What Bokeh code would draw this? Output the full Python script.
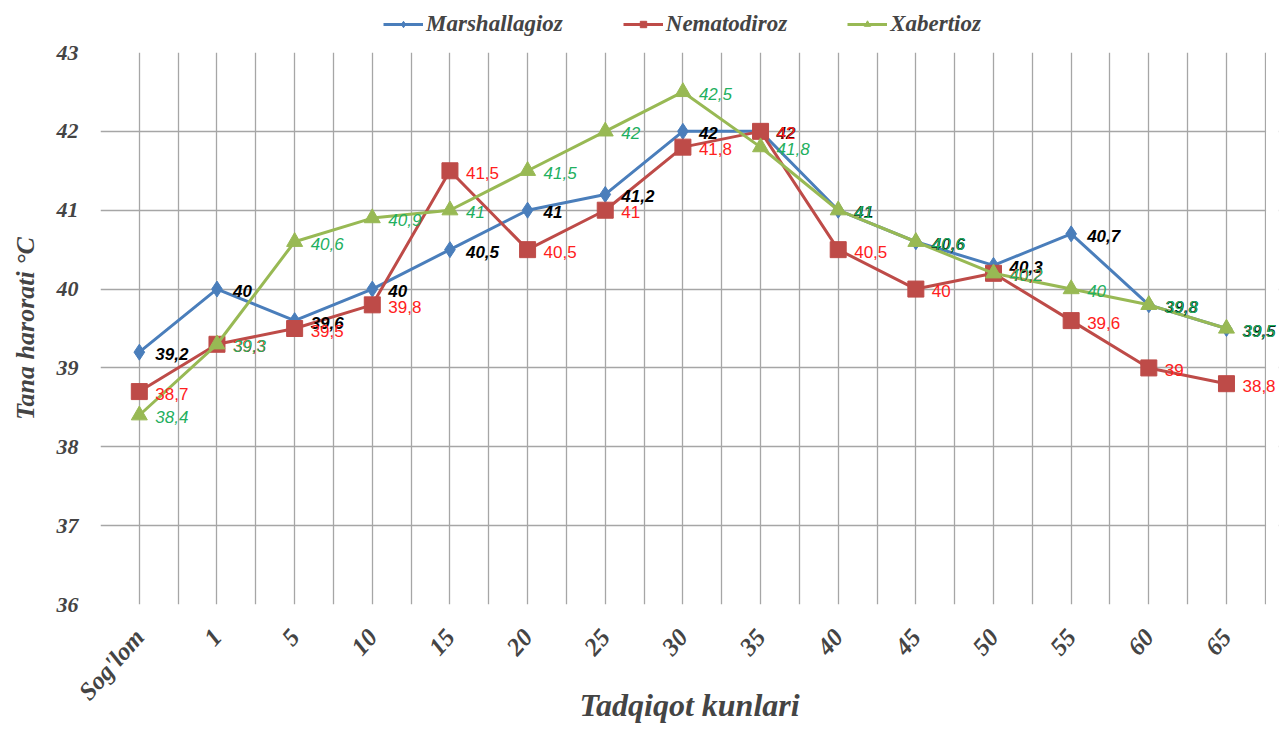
import math
from bokeh.plotting import figure
from bokeh.layouts import column
from bokeh.models import FixedTicker, ColumnDataSource, Legend, LegendItem, Range1d, BoxAnnotation
from bokeh.core.properties import value
from bokeh.embed import file_html
from bokeh.resources import INLINE

categories = ["Sog'lom", "1", "5", "10", "15", "20", "25", "30", "35", "40", "45", "50", "55", "60", "65"]
marshallagioz = [39.2, 40, 39.6, 40, 40.5, 41, 41.2, 42, 42, 41, 40.6, 40.3, 40.7, 39.8, 39.5]
nematodiroz = [38.7, 39.3, 39.5, 39.8, 41.5, 40.5, 41, 41.8, 42, 40.5, 40, 40.2, 39.6, 39, 38.8]
xabertioz = [38.4, 39.3, 40.6, 40.9, 41, 41.5, 42, 42.5, 41.8, 41, 40.6, 40.2, 40, 39.8, 39.5]
y_ticks = [36, 37, 38, 39, 40, 41, 42, 43]

def fmt(v):
    s = ("%g" % v)
    return s.replace(".", ",")

xs = list(range(len(categories)))
serif = "Liberation Serif"
n = len(categories)
x_end = n - 0.5  # last category boundary

p = figure(width=1280, height=690, output_backend="svg", toolbar_location=None,
           x_range=Range1d(-0.5, x_end + 0.17), y_range=Range1d(36, 43),
           min_border_left=100, min_border_right=2, min_border_top=14, min_border_bottom=124)

p.background_fill_color = "white"
p.border_fill_color = "white"
p.outline_line_color = None

# grids
half = [i * 0.5 - 0.5 for i in range(2 * n + 1)]
p.xgrid.ticker = FixedTicker(ticks=half)
p.xgrid.grid_line_color = "#a6a6a6"
p.xgrid.grid_line_width = 1.3
p.ygrid.ticker = FixedTicker(ticks=y_ticks)
p.ygrid.grid_line_color = "#a6a6a6"
p.ygrid.grid_line_width = 1.3

# white strip right of the last category so labels may overflow the plot area
p.add_layout(BoxAnnotation(left=x_end + 0.01, fill_color="white", fill_alpha=1,
                           line_color=None, level="underlay"))

# axes
p.xaxis.ticker = FixedTicker(ticks=xs)
p.xaxis.major_label_overrides = {i: c for i, c in enumerate(categories)}
p.xaxis.major_label_orientation = 0.85
p.xaxis.major_label_text_font = serif
p.xaxis.major_label_text_font_style = "bold italic"
p.xaxis.major_label_text_font_size = "25px"
p.xaxis.major_label_standoff = 28
p.xaxis.major_tick_in = 0
p.xaxis.major_tick_out = 0
p.xaxis.axis_line_color = None
p.xaxis.major_tick_line_color = None
p.xaxis.minor_tick_line_color = None
p.xaxis.axis_label = "Tadqiqot kunlari"
p.xaxis.axis_label_text_font = serif
p.xaxis.axis_label_text_font_style = "bold italic"
p.xaxis.axis_label_text_font_size = "32px"
p.xaxis.axis_label_standoff = -30

p.yaxis.ticker = FixedTicker(ticks=y_ticks)
p.yaxis.major_label_text_font = serif
p.yaxis.major_label_text_font_style = "bold italic"
p.yaxis.major_label_text_font_size = "22px"
p.yaxis.major_label_standoff = 16
p.yaxis.axis_line_color = None
p.yaxis.major_tick_line_color = None
p.yaxis.minor_tick_line_color = None
p.yaxis.axis_label = "Tana harorati °C"
p.yaxis.axis_label_text_font = serif
p.yaxis.axis_label_text_font_style = "bold italic"
p.yaxis.axis_label_text_font_size = "26px"
p.yaxis.axis_label_standoff = 14

series = [
    ("Marshallagioz", marshallagioz, "#4a7ebb", "diamond", 16, "#000000", "bold italic"),
    ("Nematodiroz", nematodiroz, "#be4b48", "square", 16, "#ff2020", "normal"),
    ("Xabertioz", xabertioz, "#98b954", "triangle", 16, "#1fb060", "italic"),
]

# legend figure above the chart
lf = figure(width=1280, height=38, output_backend="svg", toolbar_location=None,
            x_axis_type=None, y_axis_type=None, x_range=Range1d(0, 1), y_range=Range1d(0, 1),
            min_border_left=0, min_border_right=0, min_border_top=0, min_border_bottom=0)
lf.outline_line_color = None
lf.grid.visible = False

items = []
text_specs = []
for name, vals, col, marker, size, tcol, tstyle in series:
    src = ColumnDataSource(dict(x=xs, y=vals, lab=[fmt(v) for v in vals]))
    p.line("x", "y", source=src, line_color=col, line_width=3)
    p.scatter("x", "y", source=src, marker=marker, size=size, fill_color=col, line_color=col)
    dummy = ColumnDataSource(dict(x=[-100, -99], y=[-100, -100]))
    ll = lf.line("x", "y", source=dummy, line_color=col, line_width=3)
    ls = lf.scatter("x", "y", source=dummy, marker=marker, size=8, fill_color=col, line_color=col)
    items.append(LegendItem(label=name, renderers=[ll, ls]))
    text_specs.append((src, tcol, tstyle))

for src, tcol, tstyle in text_specs:
    p.text("x", "y", text="lab", source=src, x_offset=16, y_offset=2,
           text_baseline="middle", text_align="left", text_color=tcol,
           text_font=value("Liberation Sans"), text_font_style=tstyle,
           text_font_size="17px")

legend = Legend(items=items, orientation="horizontal", location=(283, 1),
                background_fill_alpha=0, border_line_color=None,
                label_text_font=serif, label_text_font_style="bold italic",
                label_text_font_size="23px", glyph_width=40, glyph_height=16,
                label_standoff=3, spacing=60, padding=0, margin=0)
lf.add_layout(legend, "center")

layout = column(lf, p, spacing=0)
open("out.html", "w").write(file_html(layout, INLINE))
